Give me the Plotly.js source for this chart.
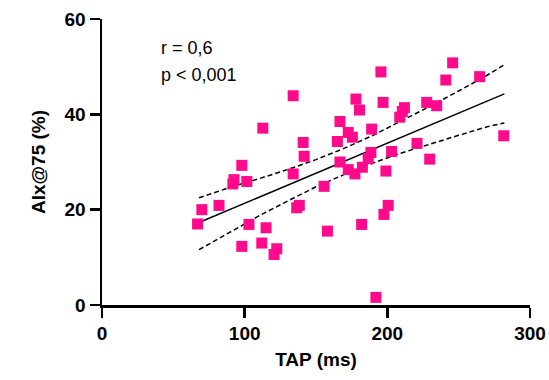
<!DOCTYPE html>
<html>
<head>
<meta charset="utf-8">
<script src="https://cdn.plot.ly/plotly-3.0.1.min.js"></script>
<style>html,body{margin:0;padding:0;background:#fff;}#chart{width:549px;height:380px;}</style>
</head>
<body>
<div id="chart"></div>
<script>
// Measured points: TAP (ms) vs AIx@75 (%)
const tapMs = [67, 70, 82, 91.7, 92.5, 98, 101.5, 103, 98, 112, 115, 112.7, 122.5, 120.6, 134, 136.5, 138.3, 134, 141, 141.7,
  155.7, 158, 165, 166.8, 172.6, 175.5, 166.8, 172.6, 177.3, 182.5, 186.6, 188.5, 178, 180.5, 189, 182, 192, 195.5, 197, 199,
  197.6, 200.6, 203, 208.7, 212, 210.5, 220.8, 227.6, 234.6, 229.7, 241, 245.8, 264.7, 281.6];
const aix75 = [17, 20, 20.9, 25.4, 26.3, 29.3, 25.9, 16.9, 12.3, 13, 16.2, 37.1, 11.8, 10.6, 27.5, 20.4, 20.9, 43.9, 34.1, 31.2,
  24.9, 15.5, 34.3, 38.5, 36.2, 35.2, 30, 28.4, 27.5, 28.9, 30.7, 32, 43.2, 40.9, 36.9, 16.9, 1.6, 48.9, 42.5, 28.1,
  19, 20.9, 32.2, 39.4, 41.4, 40.6, 33.9, 42.5, 41.8, 30.6, 47.2, 50.8, 47.9, 35.5];

// Regression line and 95% confidence band
const fitX = [68, 282];
const fitY = [17.3, 44.3];
const bandX = [68, 90, 110, 130, 150, 170, 190, 210, 230, 250, 270, 282];
const bandUpper = [22.5, 24.7, 26.5, 28.4, 30.5, 32.9, 35.6, 38.6, 41.7, 44.9, 48.2, 50.4];
const bandLower = [11.6, 15.4, 18.7, 21.8, 24.8, 27.4, 29.8, 31.9, 33.8, 35.6, 37.4, 38.2];

const xTicks = [0, 100, 200, 300];
const yTicks = [0, 20, 40, 60];
const xTitle = 'TAP (ms)';
const yTitle = 'AIx@75 (%)';
const statLines = ['r = 0,6', 'p &lt; 0,001'];

const FONT = 'Liberation Sans';

const traces = [
  {x: bandX, y: bandUpper, mode: 'lines', type: 'scatter', line: {color: '#000', width: 1.5, dash: '5px,3px'}, hoverinfo: 'skip'},
  {x: bandX, y: bandLower, mode: 'lines', type: 'scatter', line: {color: '#000', width: 1.5, dash: '5px,3px'}, hoverinfo: 'skip'},
  {x: fitX, y: fitY, mode: 'lines', type: 'scatter', line: {color: '#000', width: 1.5}},
  {x: tapMs, y: aix75, mode: 'markers', type: 'scatter', cliponaxis: false,
   marker: {symbol: 'square', size: 11, color: '#ff0a8c', line: {width: 0}}}
];

const axisCommon = {
  showgrid: false, zeroline: false, showline: true, linecolor: '#000', linewidth: 2.5,
  ticks: 'outside', ticklen: 10, tickwidth: 2.5, tickcolor: '#000',
  tickfont: {family: FONT, size: 19, color: '#000', weight: 700},
  fixedrange: true
};

const layout = {
  width: 549, height: 380,
  margin: {l: 101.5, r: 19, t: 19, b: 75},
  paper_bgcolor: '#fff', plot_bgcolor: '#fff',
  showlegend: false,
  font: {family: FONT, color: '#000'},
  xaxis: Object.assign({}, axisCommon, {
    range: [0, 300], tickvals: xTicks, ticktext: xTicks.map(String),
    title: {text: xTitle, font: {family: FONT, size: 19, color: '#000', weight: 700}, standoff: 10}
  }),
  yaxis: Object.assign({}, axisCommon, {
    range: [0, 60], tickvals: yTicks, ticktext: yTicks.map(String),
    title: {text: yTitle, font: {family: FONT, size: 19, color: '#000', weight: 700}, standoff: 14}
  }),
  annotations: [
    {xref: 'x', yref: 'y', x: 40, y: 54, text: statLines[0], showarrow: false, xanchor: 'left', yanchor: 'middle',
     font: {family: FONT, size: 18, color: '#000'}},
    {xref: 'x', yref: 'y', x: 40, y: 48.3, text: statLines[1], showarrow: false, xanchor: 'left', yanchor: 'middle',
     font: {family: FONT, size: 18, color: '#000'}}
  ]
};

Plotly.newPlot('chart', traces, layout, {displayModeBar: false, staticPlot: true});
</script>
</body>
</html>
